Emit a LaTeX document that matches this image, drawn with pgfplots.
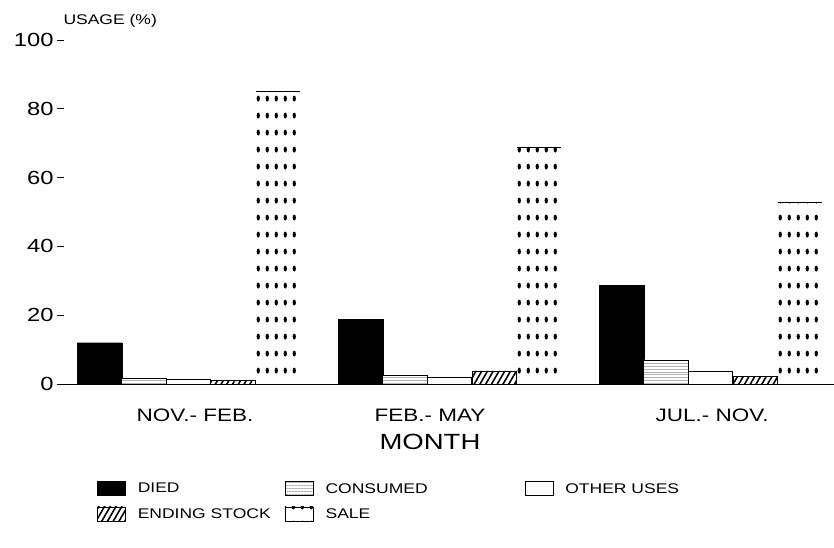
\documentclass[border=0pt]{standalone}
\usepackage{pgfplots}
\pgfplotsset{compat=1.18}
\usepackage{fontspec}
\setmainfont{Liberation Sans}[FakeStretch=1.25]
\usetikzlibrary{patterns.meta}
\tikzdeclarepattern{
  name=saledots,
  type=uncolored,
  bounding box={(0pt,0pt) and (8.8pt,17pt)},
  tile size={(8.8pt,17pt)},
  code={\fill (4.4pt,8.5pt) ellipse (1.7pt and 3pt);}
}
\newcommand{\fs}[1]{\fontsize{#1bp}{#1bp}\selectfont}
\begin{document}
\begin{tikzpicture}
\begin{axis}[
  scale only axis, width=777bp, height=344bp,
  xmin=-0.504, xmax=2.473, ymin=0, ymax=100,
  axis x line=bottom, axis y line=left, axis line style={-, line width=0.9bp},
  y axis line style={draw=none},
  ytick={0,20,...,100}, tick align=inside, major tick length=7bp,
  ytick style={line width=0.9bp, black},
  xtick={0.025,0.925,2.006}, xticklabels={NOV.- FEB., FEB.- MAY, JUL.- NOV.},
  xtick style={draw=none},
  xticklabel style={anchor=base, yshift=-30bp, font=\fs{18}},
  yticklabel style={font=\fs{19}},
  /pgf/number format/assume math mode=true,
  xlabel={MONTH},
  xlabel style={at={(axis description cs:0.48,0)}, anchor=base, yshift=-65bp, font=\fs{22}},
  ybar, bar width=0.1705,
  clip=false,
  legend columns=3,
  legend cell align=left,
  legend style={at={(axis description cs:0.0515,-0.28)}, anchor=north west, draw=none, fill=none,
    font=\fs{14}, row sep=10bp, inner sep=0pt},
  legend image code/.code={\draw[#1] (0bp,-6bp) rectangle (28bp,8bp);},
]
\addplot[ybar, bar shift=-0.341, fill=black, draw=black] coordinates {(0,12) (1,18.8) (2,28.7)};
\addlegendentry{\makebox[155bp][l]{\hspace{10bp}DIED}}
\addplot[ybar, bar shift=-0.1705, draw=black, line width=0.8bp, fill=white, postaction={pattern={Lines[angle=0,distance=3pt,line width=0.3pt]}, pattern color=gray!60}] coordinates {(0,1.5) (1,2.5) (2,7)};
\addlegendentry{\makebox[207bp][l]{\hspace{10bp}CONSUMED}}
\addplot[ybar, bar shift=0, draw=black, line width=0.8bp, fill=white] coordinates {(0,1.2) (1,1.8) (2,3.6)};
\addlegendentry{\hspace{10bp}OTHER USES}
\addplot[ybar, bar shift=0.1705, draw=black, line width=0.6bp, pattern={Lines[angle=60,distance=5pt,line width=1.6pt]}] coordinates {(0,1.0) (1,3.8) (2,2.1)};
\addlegendentry{\makebox[155bp][l]{\hspace{10bp}ENDING STOCK}}
\addplot[ybar, bar shift=0.341, draw=none, pattern=saledots, pattern color=black,
  error bars/.cd, y dir=plus, y fixed=0, error mark=|, error bar style={line width=1.2bp, black},
  error mark options={mark size=22bp, line width=1.2bp, black}] coordinates {(0,85) (1,68.7) (2,52.8)};
\addlegendentry{\makebox[207bp][l]{\hspace{10bp}SALE}}
\node[anchor=base west, font=\fs{14}] at ([xshift=3bp,yshift=15bp]rel axis cs:0,1) {USAGE (\%)};
\end{axis}
\pgfresetboundingbox
\path[use as bounding box] ([xshift=-57bp,yshift=-164bp]current axis.south west) rectangle ++(834bp,548bp);
\end{tikzpicture}
\end{document}
